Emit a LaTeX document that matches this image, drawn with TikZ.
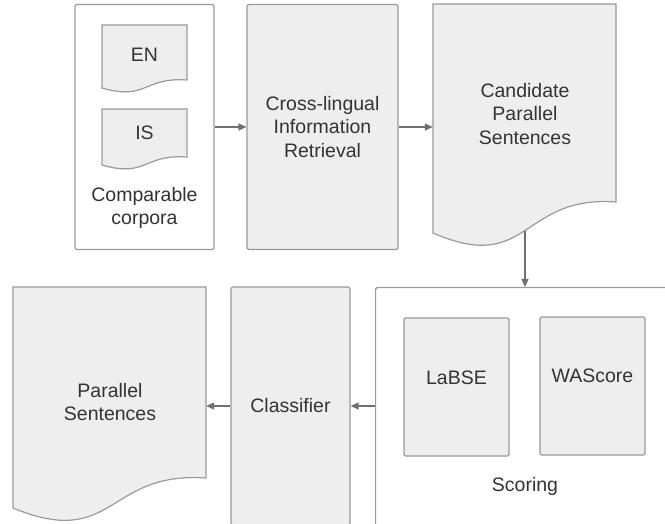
\documentclass[tikz,border=0pt]{standalone}
\usepackage{fontspec}
\setmainfont{Liberation Sans}
\usetikzlibrary{arrows.meta}
\definecolor{boxfill}{HTML}{EEEEEE}
\definecolor{boxline}{HTML}{9A9A9A}
\definecolor{arrline}{HTML}{707070}
\definecolor{txt}{HTML}{333333}
\begin{document}
\begin{tikzpicture}[x=1pt,y=-1pt,
  every node/.style={font=\fontsize{19.5}{23.4}\selectfont, text=txt, align=center, inner sep=0pt},
  box/.style={rectangle, draw=boxline, fill=boxfill, line width=1.2pt, rounded corners=1.5pt},
  outerbox/.style={rectangle, draw=boxline, fill=white, line width=1.2pt, rounded corners=1.5pt},
  doc/.style={draw=boxline, fill=boxfill, line width=1.2pt},
  arr/.style={draw=arrline, line width=1.2pt, -{Triangle[length=8pt,width=7pt]}}
]
\clip (0,0) rectangle (665,524);
\fill[white] (0,0) rectangle (665,524);

% Comparable corpora
\node[outerbox, minimum width=139pt, minimum height=245pt] (corp) at (144.5,127) {};
\draw[doc] (102,88) -- (102,25) -- (187,25) -- (187,80) .. controls (143,77) and (147,101) .. (102,88) -- cycle;
\node (en) at (144.5,55) {EN};
\draw[doc] (102,165) -- (102,109) -- (187,109) -- (187,157) .. controls (143,154) and (147,178) .. (102,165) -- cycle;
\node (is) at (144.5,133) {IS};
\node (corptext) at (144.5,208) {Comparable\\corpora};

% CLIR
\node[box, minimum width=151pt, minimum height=245pt] (clir) at (322.5,127) {Cross-lingual\\Information\\Retrieval};

% Candidate parallel sentences
\draw[doc] (433,233) -- (433,4) -- (616,4) -- (616,202) .. controls (520,195) and (530,275) .. (433,233) -- cycle;
\node[minimum width=183pt, minimum height=229pt] (cand) at (524.5,118.5) {};
\node (candtext) at (525,114) {Candidate\\Parallel\\Sentences};
\coordinate (candbot) at (525,231);

% Scoring
\node[outerbox, minimum width=300pt, minimum height=250pt, anchor=north west] (scoring) at (375,287) {};
\node[box, minimum width=105pt, minimum height=138pt] (labse) at (456.5,387) {};
\node (labsetext) at (456.5,378) {LaBSE};
\node[box, minimum width=105pt, minimum height=138pt] (wascore) at (592.5,386) {};
\node (wascoretext) at (592.5,376) {WAScore};
\node (scoringtext) at (525,486) {Scoring};

% Classifier
\node[box, minimum width=119pt, minimum height=238pt] (clf) at (290.5,406) {Classifier};

% Parallel sentences
\draw[doc] (13,508) -- (13,287) -- (206,287) -- (206,478) .. controls (106,471) and (115,550) .. (13,508) -- cycle;
\node[minimum width=193pt, minimum height=221pt] (par) at (109.5,397.5) {};
\node (partext) at (110,402) {Parallel\\Sentences};

% Arrows
\draw[arr] (corp.east) -- (clir.west);
\draw[arr] (clir.east) -- (clir.east -| cand.west);
\draw[arr] (candbot) -- (candbot |- scoring.north);
\draw[arr] (scoring.west |- clf.east) -- (clf.east);
\draw[arr] (clf.west) -- (clf.west -| par.east);
\end{tikzpicture}
\end{document}
